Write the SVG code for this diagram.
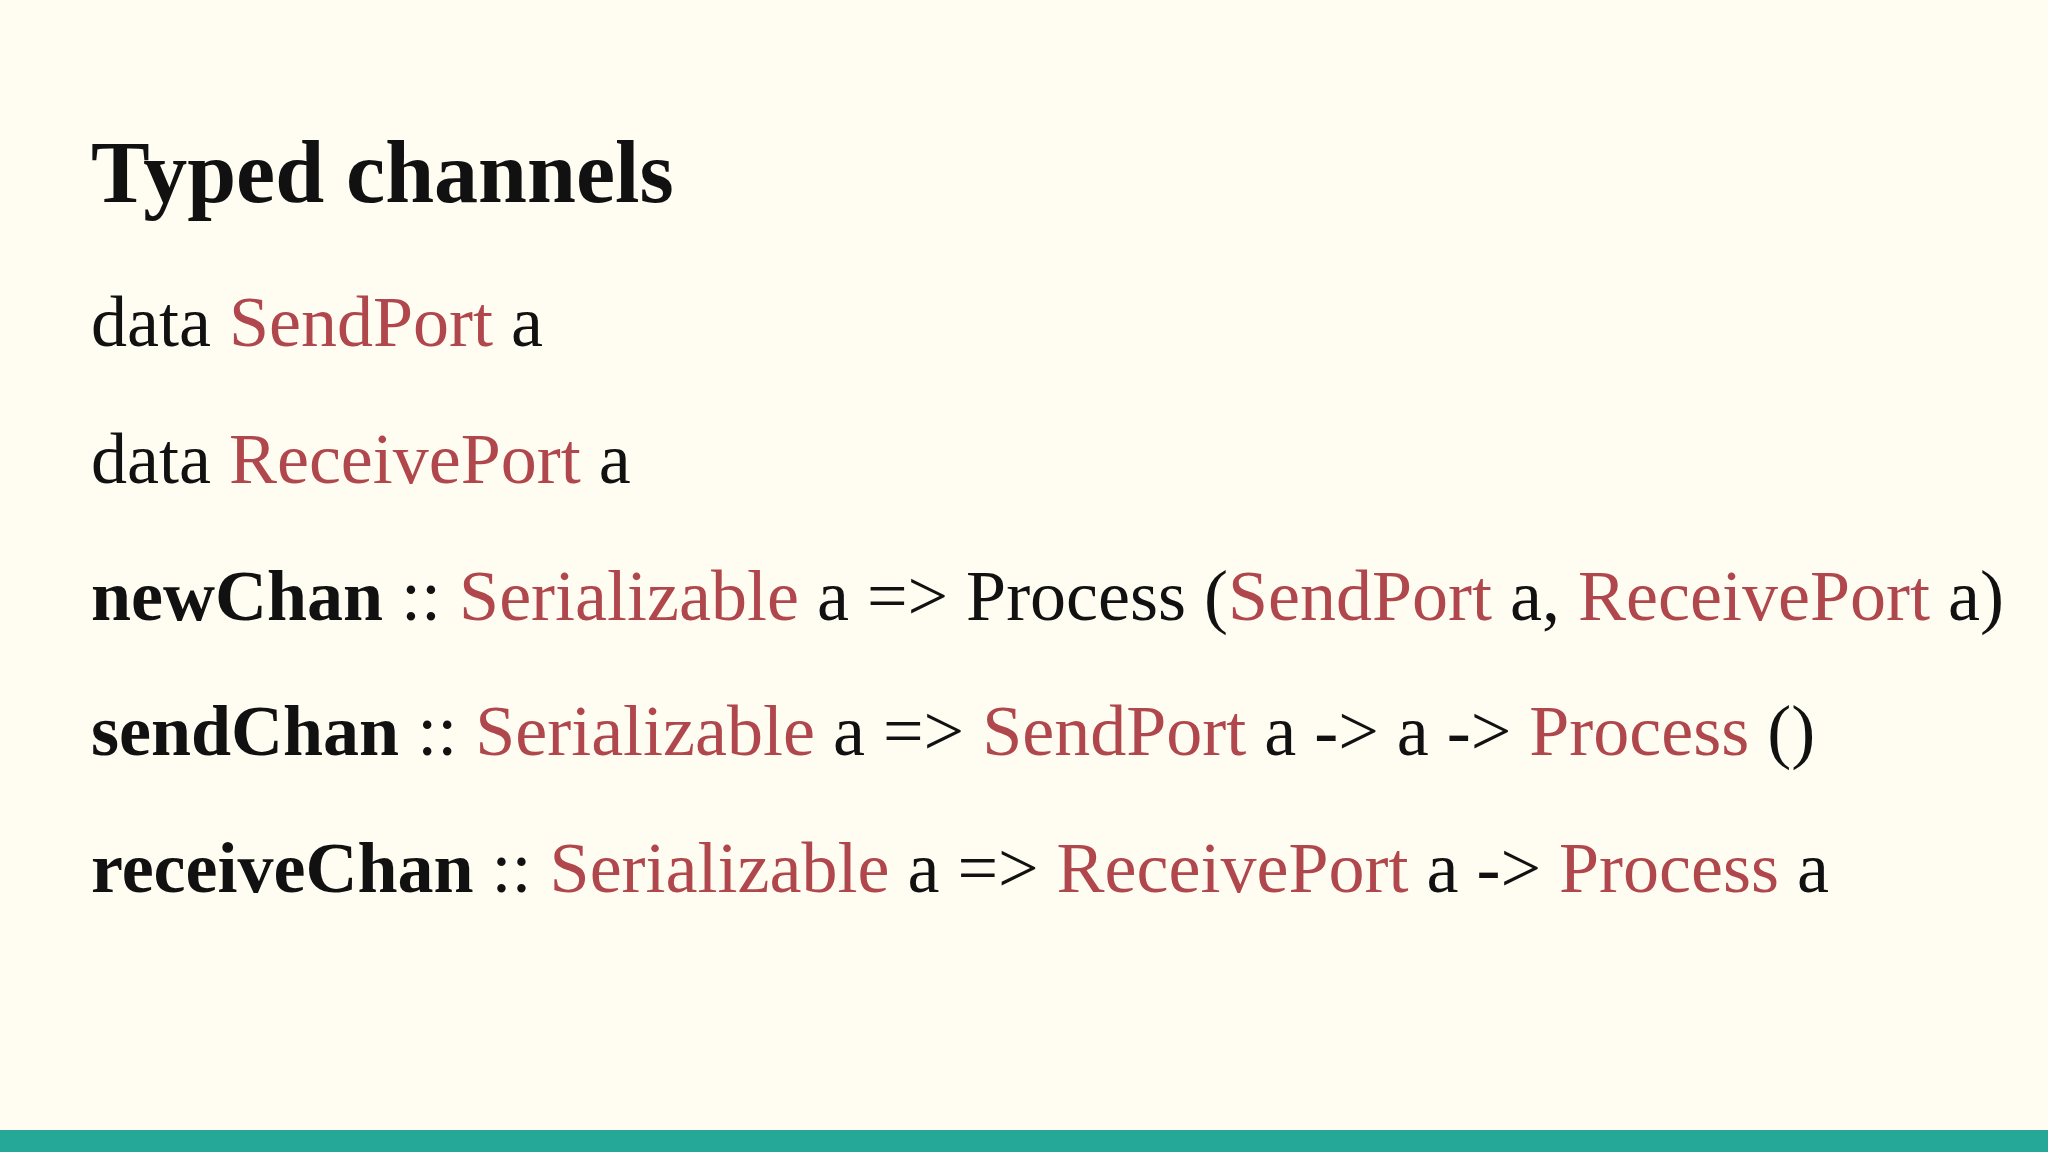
<svg xmlns="http://www.w3.org/2000/svg" width="2048" height="1152" viewBox="0 0 2048 1152">
<style>
text{font-family:"Liberation Serif","DejaVu Serif",serif;font-size:72px;fill:#111}
.r{fill:#b0474c}
.b{font-weight:bold}
</style>
<rect width="2048" height="1152" fill="#fffcf2"/>
<rect y="1130" width="2048" height="22" fill="#26a898"/>
<text x="91" y="202" class="b" style="font-size:88px">Typed channels</text>
<text x="91" y="346" xml:space="preserve">data <tspan class="r">SendPort</tspan> a</text>
<text x="91" y="483" xml:space="preserve">data <tspan class="r">ReceivePort</tspan> a</text>
<text x="91" y="620" xml:space="preserve"><tspan class="b">newChan</tspan> :: <tspan class="r">Serializable</tspan> a =&gt; Process (<tspan class="r">SendPort</tspan> a, <tspan class="r">ReceivePort</tspan> a)</text>
<text x="91" y="755" xml:space="preserve"><tspan class="b">sendChan</tspan> :: <tspan class="r">Serializable</tspan> a =&gt; <tspan class="r">SendPort</tspan> a -&gt; a -&gt; <tspan class="r">Process</tspan> ()</text>
<text x="91" y="892" xml:space="preserve"><tspan class="b">receiveChan</tspan> :: <tspan class="r">Serializable</tspan> a =&gt; <tspan class="r">ReceivePort</tspan> a -&gt; <tspan class="r">Process</tspan> a</text>
</svg>
